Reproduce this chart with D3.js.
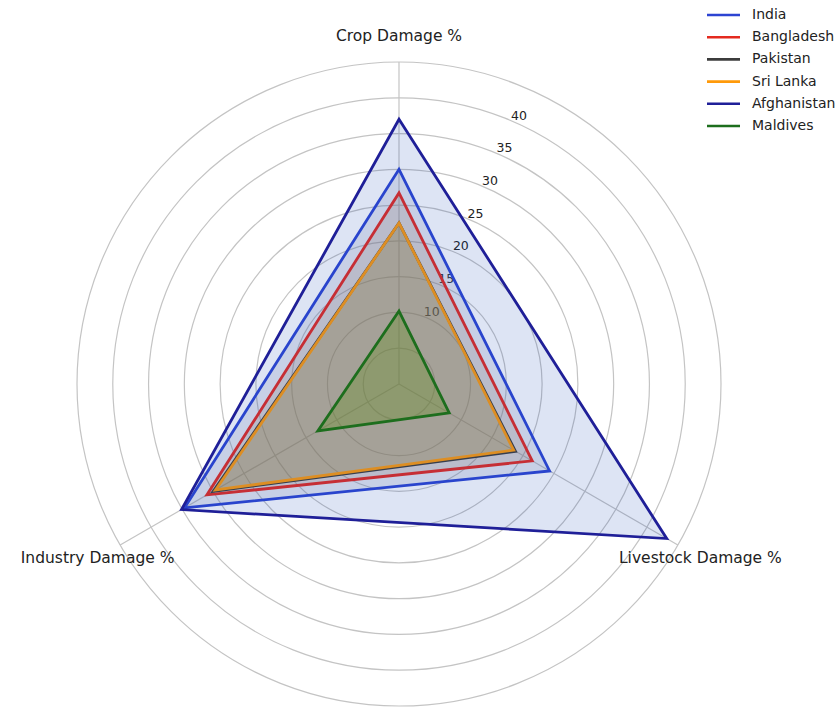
<html>
<head>
<script src="https://d3js.org/d3.v7.min.js"></script>
<style>
  body { margin: 0; background: #fff; }
  text { font-family: "DejaVu Sans", sans-serif; fill: #222; }
</style>
</head>
<body>
<script>
    // data
    var categories = ["Crop Damage %", "Livestock Damage %", "Industry Damage %"];
    var countries = ["India", "Bangladesh", "Pakistan", "Sri Lanka", "Afghanistan", "Maldives"];
    var india = [30, 24.3, 34.6];
    var bangladesh = [26.7, 21.5, 31];
    var pakistan = [22.5, 18.8, 30];
    var sriLanka = [22.5, 18.5, 29.6];
    var afghanistan = [37, 43.2, 35.1];
    var maldives = [10.2, 8.1, 13.1];
    var ringTicks = [5, 10, 15, 20, 25, 30, 35, 40, 45];
    var tickLabels = [10, 15, 20, 25, 30, 35, 40];

    var seriesValues = [india, bangladesh, pakistan, sriLanka, afghanistan, maldives];
    // line colours and (muted) fill colours
    var colors = ["#2c44d2", "#e42a1f", "#3c3c3c", "#ff9a0a", "#1f1f98", "#1d6e1d"];
    var fills = ["#7f8db0", "#9a7452", "#857a48", "#a08024", "#1c4bb6", "#5a8a10"];
    var fillOp = [0.2, 0.2, 0.15, 0.26, 0.15, 0.3];

    ////////// settings //////////
    var svgWidth = 840, svgHeight = 714;
    var cx = 399, cy = 384;
    var outerR = 322;

    var svg = d3.select("body").append("svg")
        .attr("width", svgWidth)
        .attr("height", svgHeight);

    var r = d3.scaleLinear().domain([0, 45]).range([0, outerR]);
    var angle = d3.scaleLinear().domain([0, categories.length]).range([0, 2 * Math.PI]);

    var g = svg.append("g").attr("transform", "translate(" + cx + "," + cy + ")");

    // rings
    g.selectAll(".ring").data(ringTicks).enter().append("circle")
        .attr("class", "ring")
        .attr("r", d => r(d))
        .attr("fill", "none")
        .attr("stroke", "#c4c4c4")
        .attr("stroke-width", 1.2);

    // spokes
    g.selectAll(".spoke").data(categories).enter().append("line")
        .attr("class", "spoke")
        .attr("x1", 0).attr("y1", 0)
        .attr("x2", (d, i) => outerR * Math.sin(angle(i)))
        .attr("y2", (d, i) => -outerR * Math.cos(angle(i)))
        .attr("stroke", "#c4c4c4")
        .attr("stroke-width", 1.2);

    // radial tick labels (under the polygons, like the original)
    var labAng = 24 * Math.PI / 180;
    g.selectAll(".rlab").data(tickLabels).enter().append("text")
        .attr("class", "rlab")
        .attr("x", d => (r(d) + 9) * Math.sin(labAng))
        .attr("y", d => -(r(d) + 7) * Math.cos(labAng))
        .attr("text-anchor", "middle")
        .attr("dominant-baseline", "middle")
        .style("font-size", "12.5px")
        .text(d => d);

    // axis labels
    g.selectAll(".alab").data(categories).enter().append("text")
        .attr("class", "alab")
        .attr("x", (d, i) => 348 * Math.sin(angle(i)))
        .attr("y", (d, i) => -348 * Math.cos(angle(i)))
        .attr("text-anchor", "middle")
        .attr("dominant-baseline", "middle")
        .style("font-size", "15.5px")
        .text(d => d);

    var radial = d3.lineRadial()
        .angle((d, i) => angle(i))
        .radius(d => r(d))
        .curve(d3.curveLinearClosed);

    // polygons
    seriesValues.forEach(function (vals, k) {
        g.append("path")
            .attr("d", radial(vals))
            .attr("fill", fills[k])
            .attr("fill-opacity", fillOp[k])
            .attr("stroke", colors[k])
            .attr("stroke-width", 2.8)
            .attr("stroke-linejoin", "miter");
    });

    // legend
    var legend = svg.append("g").attr("transform", "translate(707,15)");
    var rows = legend.selectAll(".row").data(countries).enter().append("g")
        .attr("transform", (d, i) => "translate(0," + i * 22.2 + ")");
    rows.append("line")
        .attr("x1", 0).attr("x2", 33).attr("y1", 0).attr("y2", 0)
        .attr("stroke", (d, i) => colors[i])
        .attr("stroke-width", 2.6);
    rows.append("text")
        .attr("x", 45).attr("y", 0)
        .attr("dominant-baseline", "middle")
        .style("font-size", "14px")
        .text(d => d);
</script>
</body>
</html>
